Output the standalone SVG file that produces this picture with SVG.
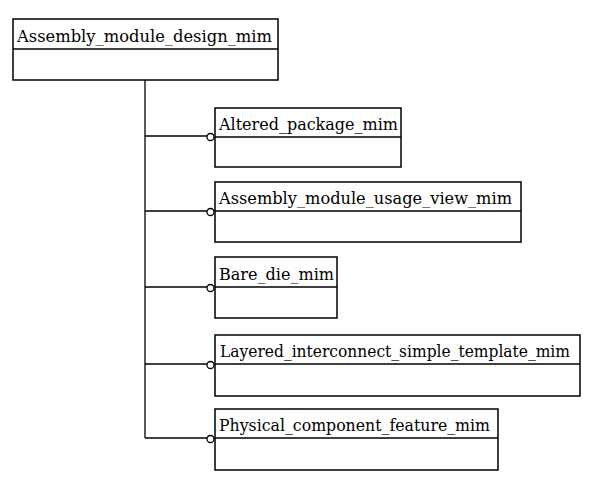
<svg xmlns="http://www.w3.org/2000/svg" width="598" height="481" viewBox="0 0 598 481">
<style>
.box{fill:#fff;stroke:#000;stroke-width:1.5}
.ln{fill:none;stroke:#000;stroke-width:1.3}
.lbl{font-family:"DejaVu Serif","Liberation Serif",serif;font-size:17px;fill:#000}
.dot{fill:#fff;stroke:#000;stroke-width:1.3}
</style>
<rect width="598" height="481" fill="#fff"/>
<g id="connectors">
<path class="ln" d="M145 80 V438"/>
<path class="ln" d="M145 136 H207"/>
<path class="ln" d="M145 211 H207"/>
<path class="ln" d="M145 287 H207"/>
<path class="ln" d="M145 364 H207"/>
<path class="ln" d="M145 438 H207"/>
<circle class="dot" cx="210.5" cy="137" r="3.5"/>
<circle class="dot" cx="210.5" cy="212" r="3.5"/>
<circle class="dot" cx="210.5" cy="288" r="3.5"/>
<circle class="dot" cx="210.5" cy="365" r="3.5"/>
<circle class="dot" cx="210.5" cy="439" r="3.5"/>
</g>
<g id="assembly_module_design_mim">
<rect class="box" x="13" y="19" width="265" height="61"/>
<path class="ln" d="M13 49 H278"/>
<text class="lbl" x="17" y="42" textLength="255" lengthAdjust="spacingAndGlyphs">Assembly_module_design_mim</text>
</g>
<g id="altered_package_mim">
<rect class="box" x="215" y="108" width="186" height="59"/>
<path class="ln" d="M215 137 H401"/>
<text class="lbl" x="219" y="130" textLength="179" lengthAdjust="spacingAndGlyphs">Altered_package_mim</text>
</g>
<g id="assembly_module_usage_view_mim">
<rect class="box" x="215" y="182" width="306" height="60"/>
<path class="ln" d="M215 211 H521"/>
<text class="lbl" x="219" y="204" textLength="293" lengthAdjust="spacingAndGlyphs">Assembly_module_usage_view_mim</text>
</g>
<g id="bare_die_mim">
<rect class="box" x="215" y="257" width="122" height="61"/>
<path class="ln" d="M215 287 H337"/>
<text class="lbl" x="219" y="280" textLength="115" lengthAdjust="spacingAndGlyphs">Bare_die_mim</text>
</g>
<g id="layered_interconnect_simple_template_mim">
<rect class="box" x="215" y="335" width="365" height="61"/>
<path class="ln" d="M215 364 H580"/>
<text class="lbl" x="220" y="357" textLength="350" lengthAdjust="spacingAndGlyphs">Layered_interconnect_simple_template_mim</text>
</g>
<g id="physical_component_feature_mim">
<rect class="box" x="215" y="409" width="283" height="61"/>
<path class="ln" d="M215 438 H498"/>
<text class="lbl" x="219" y="431" textLength="271" lengthAdjust="spacingAndGlyphs">Physical_component_feature_mim</text>
</g>
</svg>
